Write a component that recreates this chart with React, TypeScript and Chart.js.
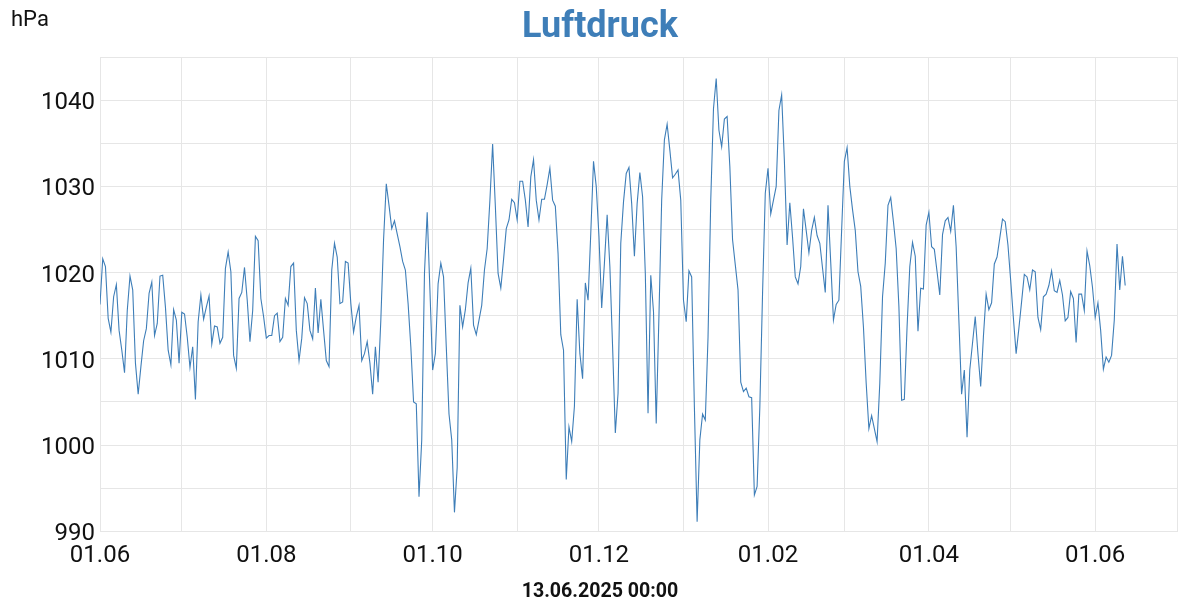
import React, { useEffect, useRef } from 'react';
import { Chart, registerables } from 'chart.js';

Chart.register(...registerables);

const titleText = 'Luftdruck';
const unitLabel = 'hPa';
const timestampLabel = '13.06.2025 00:00';

const seriesStart = '2024-06-01';

const monthTicks = [
  '2024-06-01', '2024-07-01', '2024-08-01', '2024-09-01', '2024-10-01', '2024-11-01', '2024-12-01',
  '2025-01-01', '2025-02-01', '2025-03-01', '2025-04-01', '2025-05-01', '2025-06-01', '2025-07-01',
];
const monthTickLabels = [
  '01.06', '', '01.08', '', '01.10', '', '01.12', '', '01.02', '', '01.04', '', '01.06', '',
];

const yMin = 990;
const yMax = 1045;
const yStep = 5;
const yLabelledTicks = [990, 1000, 1010, 1020, 1030, 1040];

// daily air pressure (hPa), June 2024 – June 2025
const pressureSummer2024 = [
  1016.3, 1021.6, 1020.7, 1014.7, 1013.1, 1017.2, 1018.6, 1013.3, 1011.0, 1008.4,
  1015.6, 1019.6, 1018.0, 1009.5, 1005.9, 1009.1, 1012.1, 1013.5, 1017.6, 1018.9,
  1012.7, 1014.1, 1019.6, 1019.7, 1016.0, 1011.0, 1009.3, 1015.7, 1014.5, 1009.5,
  1015.4, 1015.2, 1012.5, 1009.0, 1011.4, 1005.3, 1014.3, 1017.4, 1014.6, 1016.0,
  1017.3, 1011.7, 1013.8, 1013.7, 1011.8, 1012.5, 1020.5, 1022.4, 1020.1, 1010.4,
  1008.9, 1017.0, 1017.7, 1020.6, 1016.8, 1012.0, 1015.6, 1024.2, 1023.7, 1017.0,
  1014.9, 1012.4, 1012.7, 1012.7, 1015.0, 1015.3, 1012.0, 1012.5, 1017.0, 1016.2,
  1020.7, 1021.1, 1013.3, 1009.8, 1012.4, 1017.1, 1016.4, 1013.3, 1012.3, 1018.2,
  1013.0, 1016.9, 1013.3, 1009.8, 1009.1, 1020.3, 1023.4, 1021.8, 1016.4, 1016.6,
  1021.3, 1021.1,
];
const pressureAutumn2024 = [
  1016.4, 1013.1, 1014.9, 1016.2, 1009.8, 1010.6, 1012.0, 1009.5,
  1005.9, 1011.4, 1007.3, 1014.5, 1023.8, 1030.3, 1027.8, 1025.1, 1026.0, 1024.5,
  1023.0, 1021.3, 1020.3, 1016.4, 1011.4, 1005.0, 1004.8, 994.0, 1000.6, 1019.9,
  1027.0, 1018.0, 1008.7, 1010.6, 1018.7, 1021.1, 1019.5, 1011.4, 1003.6, 1000.6,
  992.2, 997.4, 1016.2, 1013.7, 1015.7, 1018.8, 1020.5, 1013.9, 1012.8, 1014.5,
  1016.2, 1020.3, 1022.8, 1028.4, 1034.9, 1027.7, 1019.9, 1018.2, 1021.5, 1025.1,
  1026.1, 1028.5, 1028.1, 1026.1, 1030.6, 1030.6, 1028.4, 1025.3, 1031.1, 1033.1,
  1028.4, 1026.1, 1028.5, 1028.5, 1030.2, 1032.1, 1028.4, 1027.7, 1022.2, 1012.8,
  1011.0, 996.0, 1002.1, 1000.4, 1004.5, 1016.9, 1010.6, 1007.7, 1018.8, 1016.8,
  1024.6, 1032.9, 1030.0,
];
const pressureWinter2025 = [
  1024.2, 1015.9, 1021.1, 1026.7, 1020.7, 1011.4, 1001.4, 1006.0,
  1023.4, 1028.2, 1031.5, 1032.2, 1028.0, 1021.9, 1028.0, 1031.6, 1028.8, 1019.9,
  1003.7, 1019.7, 1015.5, 1002.5, 1015.0, 1028.4, 1035.4, 1037.2, 1034.2, 1031.0,
  1031.4, 1031.9, 1028.4, 1016.8, 1014.3, 1020.2, 1019.5, 1004.4, 991.1, 1000.6,
  1003.6, 1002.9, 1012.5, 1028.4, 1039.0, 1042.5, 1036.5, 1034.6, 1037.8, 1038.1,
  1032.3, 1023.8, 1020.9, 1018.0, 1007.3, 1006.2, 1006.6, 1005.6, 1005.5, 994.2,
  995.2, 1004.4, 1017.6, 1029.2, 1032.1, 1026.8, 1028.4, 1030.0, 1038.8, 1040.6,
  1033.0, 1023.2, 1028.1, 1024.1, 1019.5, 1018.7, 1020.7, 1027.4, 1024.9, 1022.3,
  1024.9, 1026.4, 1024.3, 1023.4, 1020.5, 1017.7, 1027.8, 1021.2, 1014.5, 1016.3,
  1016.8,
];
const pressureSpring2025 = [
  1024.9, 1032.9, 1034.5, 1030.0, 1027.3, 1024.9, 1020.1, 1018.4,
  1013.7, 1007.2, 1001.9, 1003.4, 1001.9, 1000.4, 1007.2, 1017.2, 1021.1, 1027.8,
  1028.7, 1025.9, 1022.8, 1016.1, 1005.2, 1005.3, 1013.7, 1020.7, 1023.5, 1021.9,
  1013.2, 1018.2, 1018.1, 1025.5, 1027.0, 1023.0, 1022.7, 1020.1, 1017.4, 1024.4,
  1026.0, 1026.4, 1024.8, 1027.8, 1023.0, 1014.5, 1005.9, 1008.7, 1000.9, 1008.7,
  1011.8, 1014.9, 1010.6, 1006.8, 1012.6, 1017.5, 1015.7, 1016.5, 1021.0, 1021.8,
  1024.0, 1026.2, 1025.9, 1023.2, 1019.1, 1014.7, 1010.6, 1013.5, 1016.6, 1019.8,
  1019.5, 1018.0, 1020.3, 1020.1, 1014.8, 1013.4, 1017.2, 1017.5, 1018.5, 1020.2,
  1017.9, 1017.7, 1019.1, 1017.4, 1014.4, 1014.8, 1017.8, 1017.0, 1011.9, 1017.5,
  1017.5, 1015.6, 1022.5, 1020.8, 1018.3, 1014.8, 1016.5, 1013.3, 1008.8, 1010.2,
  1009.6, 1010.4, 1014.5, 1023.3, 1018.0, 1021.9, 1018.5,
];

const DAY_MS = 86400000;
const lineColor = 'rgb(62,126,184)';
const titleColor = 'rgb(62,126,184)';
const gridColor = '#e6e6e6';
const textColor = '#111111';
const fontFamily = 'Roboto';

export default function App() {
  const canvasRef = useRef<HTMLCanvasElement | null>(null);

  useEffect(() => {
    const canvas = canvasRef.current;
    if (!canvas) return;
    const pressure = [
      ...pressureSummer2024,
      ...pressureAutumn2024,
      ...pressureWinter2025,
      ...pressureSpring2025,
    ];
    const t0 = Date.parse(seriesStart);
    const points = pressure.map((v, i) => ({ x: t0 + i * DAY_MS, y: v }));
    const tickValues = monthTicks.map((d) => Date.parse(d));

    const unitPlugin = {
      id: 'unitLabel',
      afterDraw(chart: any) {
        const c = chart.ctx;
        c.save();
        c.font = `22px ${fontFamily}`;
        c.fillStyle = textColor;
        c.textAlign = 'left';
        c.textBaseline = 'alphabetic';
        c.fillText(unitLabel, 11, 26);
        c.restore();
      },
    };

    const chart = new Chart(canvas, {
      type: 'line',
      data: {
        datasets: [
          {
            data: points,
            borderColor: lineColor,
            borderWidth: 1.1,
            pointRadius: 0,
            tension: 0,
            fill: false,
          },
        ],
      },
      options: {
        animation: false,
        responsive: false,
        maintainAspectRatio: false,
        layout: { padding: 0 },
        plugins: {
          legend: { display: false },
          tooltip: { enabled: false },
          title: {
            display: true,
            text: titleText,
            color: titleColor,
            font: { family: fontFamily, size: 36, weight: 'bold', lineHeight: 1.2 },
            padding: { top: 6, bottom: 7.8 },
          },
          subtitle: {
            display: true,
            position: 'bottom',
            text: timestampLabel,
            color: textColor,
            font: { family: fontFamily, size: 19.6, weight: 'bold', lineHeight: 0.8 },
            padding: 0,
          },
        },
        scales: {
          x: {
            type: 'linear',
            min: tickValues[0],
            max: tickValues[tickValues.length - 1],
            afterBuildTicks: (scale: any) => {
              scale.ticks = tickValues.map((value) => ({ value }));
            },
            afterFit: (scale: any) => {
              scale.height = 53;
            },
            ticks: {
              autoSkip: false,
              maxRotation: 0,
              minRotation: 0,
              padding: 10,
              color: textColor,
              font: { family: fontFamily, size: 24 },
              callback: (_v: any, index: number) => monthTickLabels[index] ?? '',
            },
            grid: { color: gridColor, drawTicks: false, lineWidth: 1 },
            border: { color: gridColor },
          },
          y: {
            min: yMin,
            max: yMax,
            afterFit: (scale: any) => {
              scale.width = 100;
            },
            ticks: {
              stepSize: yStep,
              autoSkip: false,
              padding: 5,
              labelOffset: 3,
              color: textColor,
              font: { family: fontFamily, size: 24 },
              callback: (v: any) => (yLabelledTicks.includes(Number(v)) ? String(v) : ''),
            },
            grid: { color: gridColor, drawTicks: false, lineWidth: 1 },
            border: { color: gridColor },
          },
          yRightSpace: {
            position: 'right',
            display: true,
            min: yMin,
            max: yMax,
            afterFit: (scale: any) => {
              scale.width = 23;
            },
            ticks: { display: false },
            grid: { display: false, drawTicks: false },
            border: { display: false },
          },
        },
      },
      plugins: [unitPlugin],
    } as any);

    return () => chart.destroy();
  }, []);

  return (
    <div style={{ position: 'fixed', left: 0, top: 0, width: 1200, height: 600, background: '#fff' }}>
      <canvas ref={canvasRef} width={1200} height={600} style={{ display: 'block' }} />
    </div>
  );
}
